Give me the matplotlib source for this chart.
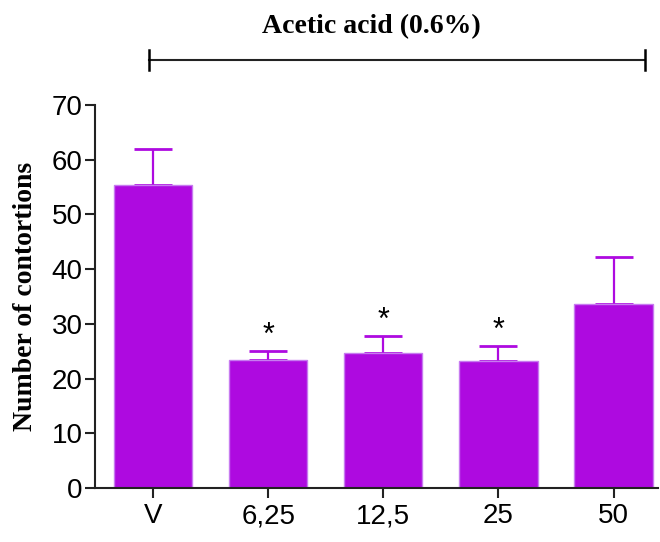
import matplotlib
matplotlib.use("Agg")
import matplotlib.pyplot as plt

categories = ["V", "6,25", "12,5", "25", "50"]
means = [55.3, 23.4, 24.6, 23.3, 33.6]
sems = [6.6, 1.6, 3.2, 2.7, 8.7]
significant = [False, True, True, True, False]
yticks = [0, 10, 20, 30, 40, 50, 60, 70]

bar_color = "#AE0AE0"
edge_color = "#C77BF0"
sans = ["Liberation Sans", "DejaVu Sans"]
serif = ["Liberation Serif", "DejaVu Serif"]

fig = plt.figure(figsize=(6.6, 5.42), dpi=100)
ax = fig.add_axes([95 / 660, 1 - 488 / 542, (658 - 95) / 660, (488 - 105) / 542])

x = list(range(len(categories)))
ax.bar(x, means, width=0.68, color=bar_color, edgecolor=edge_color, linewidth=1.0, zorder=2)
ax.errorbar(x, means, yerr=[[0] * len(sems), sems], fmt="none", ecolor=bar_color,
            elinewidth=1.6, capsize=14, capthick=2.0, zorder=1)

for xi, m, s, sig in zip(x, means, sems, significant):
    if sig:
        ax.annotate("*", xy=(xi, m + s), xytext=(0, 5), textcoords="offset points",
                    ha="center", va="baseline", fontsize=22, family=sans)

ax.set_xlim(-0.505, len(categories) - 1 + 0.386)
ax.set_ylim(0, 70)
ax.set_yticks(yticks)
ax.set_xticks(x)
ax.set_xticklabels(categories)
for lab in ax.get_xticklabels() + ax.get_yticklabels():
    lab.set_family(sans)
    lab.set_fontsize(20)
ax.tick_params(axis="both", direction="out", length=7, width=1.5, color="#222222")
ax.tick_params(axis="x", pad=4)
ax.tick_params(axis="y", pad=2)
for sp in ["top", "right"]:
    ax.spines[sp].set_visible(False)
for sp in ["left", "bottom"]:
    ax.spines[sp].set_linewidth(1.5)
    ax.spines[sp].set_color("#222222")

ax.set_ylabel("Number of contortions", family=serif, fontweight="bold", fontsize=20, labelpad=10)

# bracket and title above the axes (figure pixel fractions)
y_line = 1 - 60 / 542
x0, x1 = 149 / 660, 645 / 660
fig.add_artist(plt.Line2D([x0, x1], [y_line, y_line], color="#222222", lw=1.5))
for xe in (x0, x1):
    fig.add_artist(plt.Line2D([xe, xe], [1 - 50 / 542, 1 - 70 / 542], color="black", lw=1.8))
fig.text(371 / 660, 1 - 27 / 542, "Acetic acid (0.6%)", ha="center", va="center",
         family=serif, fontweight="bold", fontsize=20)

fig.savefig("out.png", dpi=100, facecolor="white")
